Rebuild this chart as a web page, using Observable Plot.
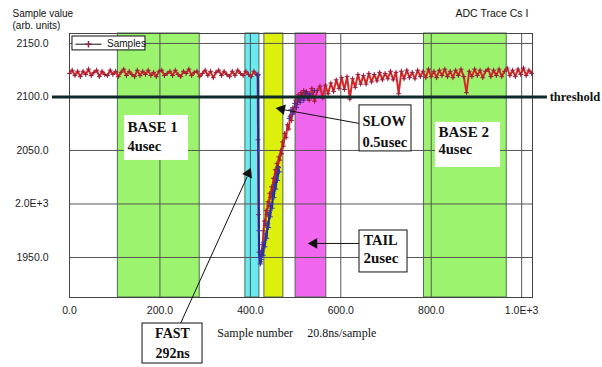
<!DOCTYPE html>
<html>
<head>
<meta charset="utf-8">
<script src="https://cdn.jsdelivr.net/npm/d3@7"></script>
<script src="https://cdn.jsdelivr.net/npm/@observablehq/plot@0.6"></script>
<style>
  html, body { margin: 0; padding: 0; background: #fff; }
  #chart svg { display: block; }
</style>
</head>
<body>
<div id="chart"></div>
<script>
// ---------- data ----------
const xTicks = [0, 200, 400, 600, 800, 1000];
const xTickLabels = ["0.0", "200.0", "400.0", "600.0", "800.0", "1.0E+3"];
const yTicks = [2150, 2100, 2050, 2000, 1950];
const yTickLabels = ["2150.0", "2100.0", "2050.0", "2.0E+3", "1950.0"];

const threshold = 2100;

// integration windows (sample number)
const bandNames = ["BASE 1", "FAST", "SLOW", "TAIL", "BASE 2"];
const bandStart = [107, 389, 431, 500, 784];
const bandEnd   = [288, 420, 473, 568, 967];

// pre-pulse baseline, samples 0..414 every 6
const baselineSamples = d3.range(0, 420, 6);
const baselineValues = [
  2122,2125,2120,2124,2119,2124,2121,2126,2120,2123,
  2125,2119,2124,2121,2120,2125,2121,2124,2119,2123,
  2126,2120,2124,2121,2119,2125,2120,2124,2121,2125,
  2120,2123,2119,2124,2125,2120,2122,2124,2120,2125,
  2121,2119,2124,2122,2126,2120,2123,2124,2119,2122,
  2125,2120,2124,2118,2123,2125,2120,2124,2121,2119,
  2124,2120,2125,2122,2120,2124,2121,2119,2124,2121
];

// pulse (red trace)
const pulseSamples = [416,417,418,419,
  421,423,425,427,429,431,433,435,437,439,441,443,445,447,449,451,453,455,457,459,461,463,465,467,469,471,473,
  476,479,482,485,488,491,494,497,500,503,506,509,512,515,518,521,524];
const pulseValues = [2120,2060,1990,1955,
  1950,1946,1956,1962,1975,1984,1980,1994,1990,2002,1998,2010,2006,2016,2012,2024,2020,2032,2028,2038,2035,2044,2041,2050,2047,2058,2054,
  2066,2062,2074,2070,2082,2078,2090,2086,2097,2093,2102,2097,2104,2100,2106,2101,2105];

// recovery, samples 530..1022 every 6
const recoverySamples = d3.range(530, 1024, 6);
const recoveryValues = [
  2097,2108,2096,2106,2110,2099,2111,2103,2113,2105,
  2116,2108,2118,2107,2119,2098,2117,2109,2121,2112,
  2120,2112,2122,2114,2121,2115,2123,2116,2122,2117,
  2124,2116,2123,2103,2124,2117,2125,2118,2123,2117,
  2125,2119,2124,2118,2126,2119,2124,2118,2125,2120,
  2126,2119,2124,2118,2125,2120,2126,2119,2104,2124,
  2119,2126,2120,2125,2118,2124,2126,2119,2125,2120,
  2126,2119,2124,2127,2120,2125,2119,2126,2121,2127,
  2120,2125,2122
];

// second (blue) sample overlaid on the fast edge
const blueSamples = [417,418,419,420,422,424,426,428,430,432,434,436,438,440,442,444,446,448,450,452,454,456,458,460,462,464];
const blueValues  = [2121,2050,1975,1950,1944,1948,1956,1952,1964,1960,1972,1968,1982,1978,1992,1988,2000,1996,2010,2006,2018,2014,2026,2022,2034,2030];

// purple points around the threshold crossing
const purpleSamples = [486,490,494,498,502,506,510,514,518,522,526,530,536,542];
const purpleValues  = [2080,2088,2084,2094,2090,2098,2095,2101,2097,2104,2099,2103,2100,2106];

// ---------- build tables ----------
const redTrace = [
  ...baselineSamples.map((s, i) => ({s, v: baselineValues[i]})),
  ...pulseSamples.map((s, i) => ({s, v: pulseValues[i]})),
  ...recoverySamples.map((s, i) => ({s, v: recoveryValues[i]}))
];
const blueTrace = blueSamples.map((s, i) => ({s, v: blueValues[i]}));
const purpleTrace = purpleSamples.map((s, i) => ({s, v: purpleValues[i]}));
const bands = bandNames.map((name, i) => ({name, x1: bandStart[i], x2: bandEnd[i]}));

const bandColor = {"BASE 1": "#9cf46e", "FAST": "#68eaf0", "SLOW": "#dcf00c", "TAIL": "#f066ee", "BASE 2": "#9cf46e"};

const serifBold = {fontFamily: "'Liberation Serif', 'Times New Roman', serif", fontWeight: "bold"};
const one = [0];
const txt = (t, x, y, opts = {}) => Plot.text([t], {x: () => x, y: () => y, text: d => d, textAnchor: "start", fill: "#111", ...opts});
const box = (x1, x2, y1, y2, stroke) => Plot.rect(one, {x1: () => x1, x2: () => x2, y1: () => y1, y2: () => y2, fill: "white", stroke: stroke || "none", strokeWidth: 1});
const link = (x1, y1, x2, y2) => Plot.link(one, {x1: () => x1, y1: () => y1, x2: () => x2, y2: () => y2, stroke: "#111", strokeWidth: 1});
const head = (x, y, rot) => Plot.dot(one, {x: () => x, y: () => y, symbol: "triangle", r: 4, fill: "#111", stroke: "none", rotate: rot});

const chart = Plot.plot({
  width: 602,
  height: 367,
  marginLeft: 69,
  marginRight: 70,
  marginTop: 33,
  marginBottom: 70,
  style: {fontFamily: "'Liberation Sans', Arial, sans-serif", fontSize: "10.5px", color: "#222", background: "#fff", overflow: "visible"},
  x: {domain: [0, 1024], ticks: xTicks, tickFormat: d => xTickLabels[xTicks.indexOf(d)], tickSize: 0, tickPadding: 9, label: null},
  y: {domain: [1912.6, 2159.3], ticks: yTicks, tickFormat: d => yTickLabels[yTicks.indexOf(d)], tickSize: 0, tickPadding: 21, label: null},
  marks: [
    // windows
    Plot.rectX(bands, {x1: "x1", x2: "x2", y1: 1912.6, y2: 2159.3, fill: d => bandColor[d.name], stroke: "#4d6e55", strokeWidth: 1}),
    // grid
    Plot.gridX(xTicks, {stroke: "#555", strokeOpacity: 1, strokeWidth: 1}),
    Plot.gridY(yTicks, {stroke: "#555", strokeOpacity: 1, strokeWidth: 1}),
    Plot.frame({stroke: "#444", strokeWidth: 1}),
    // traces
    Plot.line(redTrace, {x: "s", y: "v", stroke: "#d42828", strokeWidth: 2}),
    Plot.dot(redTrace, {x: "s", y: "v", symbol: "plus", r: 1.7, stroke: "#9a1f3c", strokeWidth: 1}),
    Plot.line(blueTrace, {x: "s", y: "v", stroke: "#1c2c9c", strokeWidth: 2}),
    Plot.dot(blueTrace, {x: "s", y: "v", symbol: "plus", r: 1.8, stroke: "#3a3aa8", strokeWidth: 1}),
    Plot.line(purpleTrace, {x: "s", y: "v", stroke: "#6a2a9a", strokeWidth: 1.2}),
    Plot.dot(purpleTrace, {x: "s", y: "v", symbol: "plus", r: 1.8, stroke: "#4a2a8a", strokeWidth: 1}),
    // threshold
    Plot.ruleY([threshold], {x1: -37.6, x2: 1057, stroke: "#0e2a2a", strokeWidth: 3}),
    txt("threshold", 1062, threshold, {...serifBold, fontSize: 12.5}),
    // legend
    box(6.6, 168, 2156.5, 2143.5, "#111"),
    Plot.link(one, {x1: () => 13, x2: () => 71, y1: () => 2149.3, y2: () => 2149.3, stroke: "#111", strokeWidth: 1}),
    Plot.dot(one, {x: () => 42, y: () => 2149.3, symbol: "plus", r: 2.2, stroke: "#8a2048"}),
    txt("Samples", 83, 2149.3, {fontSize: 10}),
    // BASE 1
    box(121.6, 263.2, 2082.7, 2040.7),
    txt("BASE 1", 128, 2071.5, {...serifBold, fontSize: 15}),
    txt("4usec", 128, 2054.2, {...serifBold, fontSize: 14.5}),
    // BASE 2
    box(809.5, 953.3, 2076.2, 2034.1),
    txt("BASE 2", 816, 2066.8, {...serifBold, fontSize: 15}),
    txt("4usec", 816, 2050.9, {...serifBold, fontSize: 14.5}),
    // SLOW
    link(641.4, 2075.2, 475, 2088.0),
    head(469.5, 2088.6, -79),
    box(641.4, 756.4, 2092.1, 2049.1, "#111"),
    txt("SLOW", 648, 2077.1, {...serifBold, fontSize: 14.5}),
    txt("0.5usec", 648, 2057.5, {...serifBold, fontSize: 14.5}),
    // TAIL
    link(641.4, 1963.1, 545, 1963.1),
    head(541, 1963.1, -90),
    box(641.4, 747.6, 1975.2, 1936.0, "#111"),
    txt("TAIL", 650, 1965.9, {...serifBold, fontSize: 14.5}),
    txt("2usec", 650, 1949.1, {...serifBold, fontSize: 15}),
    // FAST
    link(245.5, 1888.3, 393, 2025.5),
    head(395.5, 2028.5, 24),
    box(161.5, 294.2, 1888.3, 1850.9, "#111"),
    txt("FAST", 227.8, 1879, {...serifBold, fontSize: 14, textAnchor: "middle"}),
    txt("292ns", 227.8, 1860.3, {...serifBold, fontSize: 14, textAnchor: "middle"}),
    // axis titles
    txt("Sample number", 327, 1879, {fontFamily: "'Liberation Serif', 'Times New Roman', serif", fontSize: 12}),
    txt("20.8ns/sample", 526, 1879, {fontFamily: "'Liberation Serif', 'Times New Roman', serif", fontSize: 12}),
    txt("Sample value", -126, 2178, {fontSize: 10}),
    txt("(arb. units)", -126, 2166.8, {fontSize: 10}),
    txt("ADC Trace Cs I", 853.7, 2178, {fontSize: 10.5})
  ]
});
document.getElementById("chart").appendChild(chart);
</script>
</body>
</html>
